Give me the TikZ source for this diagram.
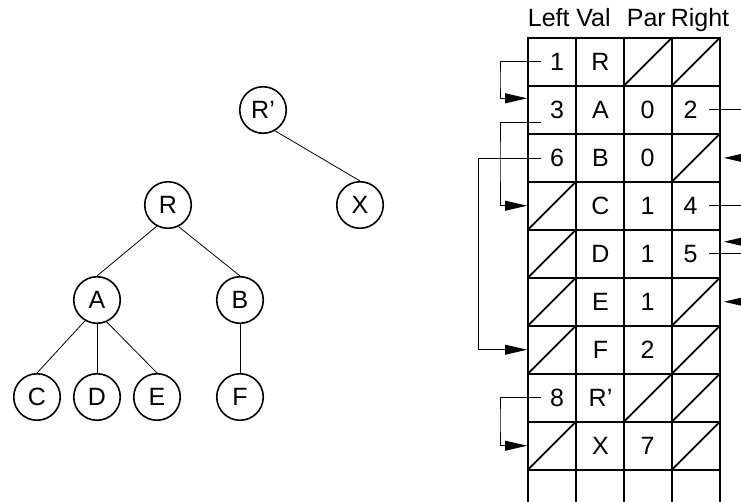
\documentclass[tikz,border=0pt]{standalone}
\usepackage{fontspec}
\setmainfont{Liberation Sans}
\usetikzlibrary{arrows.meta}
\begin{document}
\begin{tikzpicture}[x=1pt,y=-1pt,
  tn/.style={circle,draw,line width=1.6pt,minimum size=46.5pt,inner sep=0pt,font=\fontsize{25}{25}\selectfont},
  edge/.style={line width=0.8pt},
  celltxt/.style={inner sep=0pt,anchor=base,font=\fontsize{25}{25}\selectfont},
  gridline/.style={line width=1.8pt},
  conn/.style={line width=0.8pt},
  arr/.style={conn,-{Triangle[length=22pt,width=10pt]}}
]
\useasboundingbox (0,0) rectangle (741,501);
\clip (0,0) rectangle (741,501);
% ---- trees ----
\node[tn] (Rp) at (263,110) {R’};
\node[tn] (X) at (360,205) {X};
\node[tn] (R) at (168,205) {R};
\node[tn] (A) at (97,300) {A};
\node[tn] (B) at (240,300) {B};
\node[tn] (C) at (37,397) {C};
\node[tn] (D) at (97,397) {D};
\node[tn] (E) at (157,397) {E};
\node[tn] (F) at (240,397) {F};
\draw[edge] (Rp.-60) -- (X.north);
\draw[edge] (R.-118) -- (A.north);
\draw[edge] (R.-64) -- (B.north);
\draw[edge] (A.-120) -- (C.north);
\draw[edge] (A.south) -- (D.north);
\draw[edge] (A.-66) -- (E.north);
\draw[edge] (B.south) -- (F.north);
% ---- table header ----
\node[celltxt] (hL) at (548.7,26.7) {Left};
\node[celltxt] (hV) at (593.5,26.7) {Val};
\node[celltxt] (hP) at (646.3,26.7) {Par};
\node[celltxt] (hR) at (700,26.7) {Right};
% ---- grid ----
\foreach \k in {0,...,9} \draw[gridline] (527.1,37.7+48*\k) -- (721.2,37.7+48*\k);
\foreach \c in {0,...,4} \draw[gridline] (528+48*\c,36.8) -- (528+48*\c,520);
% ---- diagonals (col,row) ----
\foreach \c/\r in {2/0,3/0,3/2,0/3,0/4,0/5,3/5,0/6,3/6,2/7,3/7,0/8,3/8}
  \draw[gridline,line cap=round] (528+48*\c,85.7+48*\r) -- (576+48*\c,37.7+48*\r);
% ---- cell texts ----
\foreach \r/\t in {0/R,1/A,2/B,3/C,4/D,5/E,6/F,7/R’,8/X}
  \node[celltxt] (v\r) at (600.5,70.2+48*\r) {\t};
\foreach \r/\t in {0/1,1/3,2/6,7/8}
  \node[celltxt] (l\r) at (557,70.2+48*\r) {\t};
\foreach \r/\t in {1/0,2/0,3/1,4/1,5/1,6/2,8/7}
  \node[celltxt] (p\r) at (647.5,70.2+48*\r) {\t};
\foreach \r/\t in {1/2,3/4,4/5}
  \node[celltxt] (q\r) at (690.5,70.2+48*\r) {\t};
% ---- connector coordinates ----
\coordinate (s0) at (540.5,61.7);
\coordinate (e1) at (527,98.3);
\coordinate (s1) at (540.5,122.7);
\coordinate (e3) at (527,205.7);
\coordinate (s2) at (540.5,157.9);
\coordinate (e6) at (527,349.7);
\coordinate (s7) at (540.5,397.7);
\coordinate (e8) at (527,445.7);
\coordinate (rs1) at (709,109.7);
\coordinate (re2) at (724,157.9);
\coordinate (rs3) at (709,205.7);
\coordinate (re4) at (724,241.7);
\coordinate (rs4) at (709,253.7);
\coordinate (re5) at (724,301.7);
% ---- connectors ----
\draw[arr] (s0) -| (500,80) |- (e1);
\draw[arr] (s1) -| (500,160) |- (e3);
\draw[arr] (s2) -| (478.3,250) |- (e6);
\draw[arr] (s7) -| (500,420) |- (e8);
\draw[arr] (rs1) -| (760,130) |- (re2);
\draw[arr] (rs3) -| (770,220) |- (re4);
\draw[arr] (rs4) -| (760,280) |- (re5);
\end{tikzpicture}
\end{document}
